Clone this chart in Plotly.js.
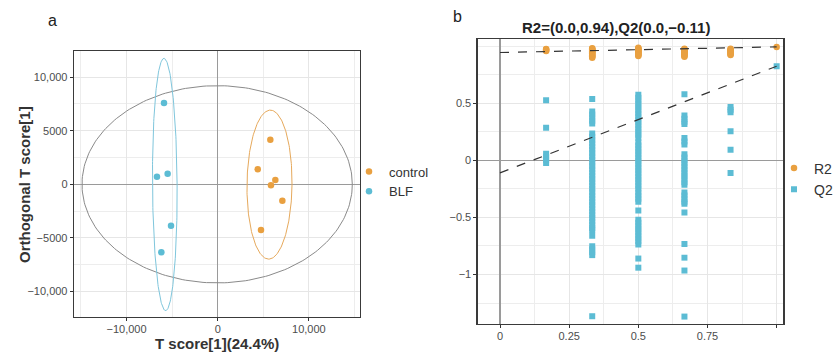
<!DOCTYPE html>
<html><head><meta charset="utf-8">
<script src="https://cdn.plot.ly/plotly-3.0.1.min.js"></script>
<style>html,body{margin:0;padding:0;background:#fff}#chart{width:835px;height:354px}</style>
</head><body><div id="chart"></div>
<script>
// ---------- Panel a: OPLS-DA score plot ----------
const groupNames = ["control", "BLF"];
const controlT = [5770, 4390, 6320, 5840, 7090, 4750];
const controlOrtho = [4160, 1400, 400, -90, -1530, -4260];
const blfT = [-5890, -6660, -5490, -5120, -6180];
const blfOrtho = [7580, 710, 990, -3860, -6340];
// ellipse parameters: [centre T, centre ortho, half width, half height, skew]
const ellipseControl = [5680, -30, 2470, 6950, 90];
const ellipseBLF = [-5800, -20, 1350, 11770, -90];
const ellipseHotelling = [-60, 0, 14820, 9200, 0];
const xTicksA = [-10000, 0, 10000];
const xTickTextA = ["−10,000", "0", "10,000"];
const yTicksA = [-10000, -5000, 0, 5000, 10000];
const yTickTextA = ["−10,000", "−5000", "0", "5000", "10,000"];

// ---------- Panel b: permutation test ----------
const permX = [1/6, 2/6, 3/6, 4/6, 5/6, 1];
const r2Values = [
  [0.975, 0.969, 0.962, 0.957],
  [0.982, 0.977, 0.972, 0.966, 0.961, 0.955, 0.949, 0.944, 0.938, 0.931, 0.925, 0.918, 0.911, 0.904, 0.897],
  [0.985, 0.979, 0.974, 0.968, 0.963, 0.957, 0.951, 0.946, 0.940, 0.933, 0.927, 0.920, 0.913],
  [0.977, 0.972, 0.966, 0.961, 0.955, 0.949, 0.943, 0.936, 0.929, 0.921, 0.913, 0.906],
  [0.976, 0.970, 0.964, 0.958, 0.951, 0.944, 0.936, 0.928, 0.921],
  [0.993]
];
const q2Values = [
  [0.526, 0.285, 0.058, 0.031, 0.004, -0.024],
  [0.537, 0.428, 0.401, 0.374, 0.347, 0.322, 0.235, 0.206, 0.178, 0.149, 0.121, 0.092, 0.064, 0.035, 0.007,
   -0.022, -0.050, -0.079, -0.107, -0.136, -0.164, -0.193, -0.221, -0.250, -0.278, -0.307, -0.335, -0.364,
   -0.392, -0.421, -0.449, -0.478, -0.506, -0.535, -0.563, -0.592, -0.610, -0.660, -0.752, -0.778, -0.804, -0.830, -1.365],
  [0.575, 0.548, 0.521, 0.494, 0.467, 0.440, 0.413, 0.386, 0.358, 0.331, 0.304, 0.277, 0.250, 0.223, 0.198,
   0.156, 0.129, 0.102, 0.075, 0.048, 0.021, -0.006, -0.033, -0.060, -0.087, -0.114, -0.141, -0.168, -0.195,
   -0.222, -0.248, -0.282, -0.309, -0.336, -0.362, -0.440, -0.520, -0.547, -0.574, -0.601, -0.628, -0.655,
   -0.682, -0.709, -0.738, -0.860, -0.940],
  [0.578, 0.392, 0.364, 0.338, 0.318, 0.195, 0.165, 0.138, 0.052, 0.025, -0.002, -0.029, -0.056, -0.083,
   -0.110, -0.137, -0.164, -0.191, -0.215, -0.282, -0.309, -0.336, -0.362, -0.380, -0.457, -0.732, -0.852, -0.965, -1.368],
  [0.466, 0.442, 0.420, 0.255, 0.093, -0.110],
  [0.824]
];
const lineX = [0, 1];
const r2Line = [0.944, 0.993];
const q2Line = [-0.11, 0.824];
const xTicksB = [0, 0.25, 0.5, 0.75, 1];
const xTickTextB = ["0", "0.25", "0.5", "0.75", ""];
const yTicksB = [-1, -0.5, 0, 0.5];
const yTickTextB = ["−1", "−0.5", "0", "0.5"];
const titleB = "R2=(0.0,0.94),Q2(0.0,−0.11)";

const ORANGE = "#E9A040", BLUE = "#5CBCD4";
const FONT = "Liberation Sans, Arial, sans-serif";

function ellipse(p) {
  const xs = [], ys = [];
  for (let i = 0; i <= 240; i++) {
    const t = 2 * Math.PI * i / 240;
    xs.push(p[0] + p[2] * Math.cos(t) + p[4] * Math.sin(t));
    ys.push(p[1] + p[3] * Math.sin(t));
  }
  return {x: xs, y: ys};
}
function flatten(vals) {
  const xs = [], ys = [];
  vals.forEach((col, i) => col.forEach(v => { xs.push(permX[i]); ys.push(v); }));
  return {x: xs, y: ys};
}

const eH = ellipse(ellipseHotelling), eC = ellipse(ellipseControl), eB = ellipse(ellipseBLF);
const r2 = flatten(r2Values), q2 = flatten(q2Values);

const traces = [
  {x: eH.x, y: eH.y, mode: "lines", line: {color: "#8a8a8a", width: 1}, showlegend: false, hoverinfo: "skip", xaxis: "x", yaxis: "y"},
  {x: eC.x, y: eC.y, mode: "lines", line: {color: "#E6A95C", width: 1}, showlegend: false, hoverinfo: "skip", xaxis: "x", yaxis: "y"},
  {x: eB.x, y: eB.y, mode: "lines", line: {color: "#7FC6DC", width: 1}, showlegend: false, hoverinfo: "skip", xaxis: "x", yaxis: "y"},
  {x: controlT, y: controlOrtho, name: groupNames[0], mode: "markers", marker: {color: ORANGE, size: 6.5}, xaxis: "x", yaxis: "y", legend: "legend"},
  {x: blfT, y: blfOrtho, name: groupNames[1], mode: "markers", marker: {color: BLUE, size: 6.5}, xaxis: "x", yaxis: "y", legend: "legend"},
  {x: q2.x, y: q2.y, name: "Q2", mode: "markers", marker: {color: BLUE, size: 6, symbol: "square"}, xaxis: "x2", yaxis: "y2", legend: "legend2", legendrank: 2},
  {x: r2.x, y: r2.y, name: "R2", mode: "markers", marker: {color: ORANGE, size: 6.5}, xaxis: "x2", yaxis: "y2", legend: "legend2", legendrank: 1},
  {x: lineX, y: r2Line, mode: "lines", line: {color: "#333", width: 1.2, dash: "dash"}, showlegend: false, hoverinfo: "skip", xaxis: "x2", yaxis: "y2"},
  {x: lineX, y: q2Line, mode: "lines", line: {color: "#333", width: 1.2, dash: "dash"}, showlegend: false, hoverinfo: "skip", xaxis: "x2", yaxis: "y2"}
];

function axisBase() {
  return {
    ticks: "outside", ticklen: 3, tickcolor: "#333", tickwidth: 1,
    showline: true, mirror: true, linecolor: "#3a3a3a", linewidth: 1.3,
    showgrid: true, gridcolor: "#E6E6E6", gridwidth: 1,
    zeroline: true, zerolinecolor: "#9a9a9a", zerolinewidth: 1.3,
    tickfont: {family: FONT, size: 11, color: "#4d4d4d"},
    tickmode: "array", fixedrange: true, automargin: false
  };
}

const W = 835, H = 354;
function ann(text, px, py, size, color, extra) {
  return Object.assign({text: text, xref: "paper", yref: "paper", x: px / W, y: (H - py) / H,
    xanchor: "center", yanchor: "middle", showarrow: false, font: {family: FONT, size: size, color: color}}, extra || {});
}
const layout = {
  width: W, height: H, margin: {l: 0, r: 0, t: 0, b: 0, autoexpand: false},
  paper_bgcolor: "#ffffff", plot_bgcolor: "#ffffff",
  font: {family: FONT, color: "#333"},
  xaxis: Object.assign(axisBase(), {domain: [74/W, 360/W], range: [-15757, 15603], tickvals: xTicksA, ticktext: xTickTextA,
    ticklabelstandoff: -2,
    minor: {tickmode: "linear", tick0: 0, dtick: 5000, showgrid: true, gridcolor: "#EDEDED", ticks: ""}, anchor: "y"}),
  yaxis: Object.assign(axisBase(), {domain: [(H-317)/H, (H-51)/H], range: [-12379, 12435], tickvals: yTicksA, ticktext: yTickTextA,
    minor: {tickmode: "linear", tick0: 0, dtick: 2500, showgrid: true, gridcolor: "#EDEDED", ticks: ""}, anchor: "x"}),
  xaxis2: Object.assign(axisBase(), {domain: [477.7/W, 783.3/W], range: [-0.0806, 1.024], tickvals: xTicksB, ticktext: xTickTextB,
    ticklabelstandoff: -2,
    minor: {tickmode: "linear", tick0: 0, dtick: 0.125, showgrid: true, gridcolor: "#EDEDED", ticks: ""}, anchor: "y2"}),
  yaxis2: Object.assign(axisBase(), {domain: [(H-324)/H, (H-39)/H], range: [-1.433, 1.062], tickvals: yTicksB, ticktext: yTickTextB,
    minor: {tickmode: "linear", tick0: 0, dtick: 0.25, showgrid: true, gridcolor: "#EDEDED", ticks: ""}, anchor: "x2"}),
  legend: {x: 349/W, y: (H-181.5)/H, xanchor: "left", yanchor: "middle", bgcolor: "rgba(0,0,0,0)",
    font: {family: FONT, size: 13, color: "#333"}, tracegroupgap: 0, itemwidth: 30},
  legend2: {x: 774/W, y: (H-179)/H, xanchor: "left", yanchor: "middle", bgcolor: "rgba(0,0,0,0)",
    font: {family: FONT, size: 14, color: "#333"}, tracegroupgap: 0, itemwidth: 30},
  annotations: [
    ann("a", 52, 21, 16, "#222"),
    ann("b", 457, 17, 16, "#222"),
    ann("<b>T score[1](24.4%)</b>", 217, 343, 15, "#333"),
    ann("<b>Orthogonal T score[1]</b>", 24.5, 184.5, 15, "#333", {textangle: -90}),
    ann("<b>" + titleB + "</b>", 616, 27.7, 15, "#222")
  ]
};

Plotly.newPlot("chart", traces, layout, {displayModeBar: false, staticPlot: true});
</script>
</body></html>
